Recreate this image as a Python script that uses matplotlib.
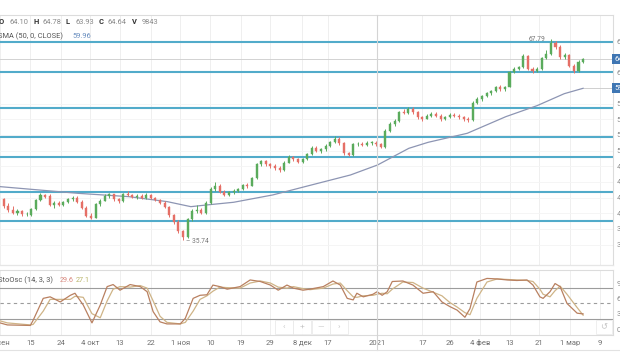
import matplotlib
matplotlib.use("Agg")
import matplotlib.pyplot as plt
from matplotlib.lines import Line2D
from matplotlib.patches import Rectangle
import numpy as np

plt.rcParams['font.family'] = ['Roboto', 'DejaVu Sans']

# ---------------- data ----------------
opens = [42.2, 41.1, 40.5, 40.1, 40.3, 39.8, 39.7, 40.7, 42.1, 42.9,
         42.7, 41.3, 41.6, 41.3, 41.8, 42.2, 42.5, 41.8, 40.9, 39.6,
         39.3, 41.4, 42.0, 42.8, 43.0, 42.2, 41.9, 43.0, 42.9, 42.6,
         42.8, 42.5, 42.9, 42.4, 42.1, 41.7, 41.0, 39.7, 38.6, 37.1,
         36.2, 39.0, 40.3, 40.5, 40.0, 41.6, 43.9, 44.4, 43.4, 42.9,
         43.4, 43.6, 43.9, 44.5, 44.4, 45.6, 47.8, 48.3, 47.8, 47.5,
         47.3, 46.9, 48.1, 49.0, 48.6, 48.2, 48.6, 49.4, 50.5, 50.0,
         50.2, 50.8, 51.4, 51.9, 51.2, 49.6, 49.3, 51.0, 51.1, 50.9,
         51.2, 51.3, 51.0, 50.6, 53.2, 54.3, 54.8, 56.2, 56.0, 56.7,
         56.1, 55.3, 55.1, 55.6, 55.9, 55.5, 55.0, 55.4, 55.7, 55.5,
         55.3, 55.0, 54.9, 57.6, 58.3, 58.7, 59.2, 59.5, 60.1, 59.9,
         60.2, 62.6, 63.1, 63.4, 65.1, 63.1, 62.7, 63.0, 64.8, 65.5,
         67.2, 66.6, 64.9, 65.3, 63.6, 62.8, 64.10]
highs = [42.5, 41.6, 41.2, 40.6, 40.5, 40.2, 40.9, 42.3, 43.2, 43.1,
         43.0, 41.9, 41.9, 42.0, 42.4, 42.7, 42.8, 42.1, 41.2, 40.0,
         41.6, 42.2, 43.1, 43.3, 43.1, 42.5, 43.2, 43.5, 43.1, 43.0,
         43.0, 43.2, 43.0, 42.6, 42.3, 41.9, 41.2, 39.9, 38.9, 37.4,
         39.3, 40.6, 41.3, 40.8, 41.9, 44.2, 45.0, 44.6, 43.7, 43.6,
         43.9, 44.1, 44.7, 44.8, 45.8, 48.0, 48.5, 48.5, 48.1, 47.9,
         47.6, 48.3, 49.3, 49.2, 48.8, 48.8, 49.6, 50.8, 50.7, 50.4,
         51.0, 51.6, 52.3, 52.1, 51.4, 49.8, 51.3, 51.4, 51.4, 51.5,
         51.6, 51.5, 51.2, 53.5, 54.6, 55.1, 56.4, 56.6, 57.0, 56.9,
         56.3, 55.6, 55.8, 56.1, 56.2, 55.8, 55.6, 56.0, 56.0, 55.9,
         55.6, 55.3, 57.9, 58.6, 58.9, 59.4, 59.7, 60.3, 60.5, 60.4,
         62.8, 63.4, 63.6, 65.4, 65.3, 63.4, 63.3, 65.0, 66.0, 67.79,
         67.5, 66.9, 65.6, 65.5, 63.9, 64.5, 64.78]
lows = [40.8, 40.2, 39.8, 39.7, 39.6, 39.5, 39.6, 40.5, 41.9, 42.4,
        41.1, 40.9, 41.1, 41.1, 41.6, 42.0, 41.6, 40.6, 39.4, 39.0,
        39.2, 41.2, 41.9, 42.5, 42.0, 41.7, 41.8, 42.7, 42.4, 42.3,
        42.3, 42.3, 42.2, 41.9, 41.5, 40.8, 39.4, 38.3, 36.8, 35.74,
        36.0, 38.8, 40.0, 39.8, 39.9, 41.4, 43.6, 43.2, 42.7, 42.8,
        43.1, 43.4, 43.7, 44.1, 44.3, 45.5, 47.6, 47.6, 47.2, 46.9,
        46.6, 46.8, 48.0, 48.4, 48.0, 48.0, 48.5, 49.3, 49.8, 49.7,
        50.0, 50.6, 51.2, 50.9, 49.3, 49.1, 49.2, 50.8, 50.7, 50.8,
        50.9, 50.8, 50.4, 50.5, 53.0, 54.0, 54.6, 55.8, 55.8, 55.9,
        55.0, 54.8, 55.0, 55.4, 55.3, 54.8, 54.9, 55.2, 55.3, 55.1,
        54.8, 54.6, 54.8, 57.4, 58.0, 58.5, 58.9, 59.3, 59.6, 59.6,
        60.1, 62.4, 62.9, 63.2, 62.9, 62.4, 62.5, 62.9, 64.6, 65.3,
        66.3, 64.6, 64.7, 63.3, 62.4, 62.5, 63.93]
closes = [41.1, 40.5, 40.1, 40.3, 39.8, 39.9, 40.7, 42.1, 42.9, 42.6,
          41.3, 41.6, 41.3, 41.8, 42.2, 42.5, 41.8, 40.9, 39.6, 39.3,
          41.4, 42.0, 42.8, 43.0, 42.2, 41.9, 43.0, 42.9, 42.6, 42.8,
          42.5, 42.9, 42.4, 42.1, 41.7, 41.0, 39.7, 38.6, 37.1, 36.2,
          39.0, 40.3, 40.5, 40.0, 41.6, 43.9, 44.4, 43.4, 42.9, 43.4,
          43.6, 43.9, 44.5, 44.4, 45.6, 47.8, 48.3, 47.8, 47.5, 47.3,
          46.9, 48.1, 49.0, 48.6, 48.2, 48.6, 49.4, 50.5, 50.0, 50.2,
          50.8, 51.4, 51.9, 51.2, 49.6, 49.3, 51.0, 51.1, 50.9, 51.2,
          51.3, 51.0, 50.6, 53.2, 54.3, 54.8, 56.2, 56.0, 56.7, 56.1,
          55.3, 55.1, 55.6, 55.9, 55.5, 55.0, 55.4, 55.7, 55.5, 55.3,
          55.0, 54.9, 57.6, 58.3, 58.7, 59.2, 59.5, 60.1, 59.9, 60.2,
          62.6, 63.1, 63.4, 65.1, 63.1, 62.7, 63.0, 64.8, 65.5, 67.2,
          66.6, 64.9, 65.3, 63.6, 62.8, 64.1, 64.64]

sma_idx = [-0.8, 16.2, 27.2, 35.6, 40.7, 44.1, 50.0, 58.5, 66.9, 75.4,
           81.3, 88.1, 92.3, 100.8, 109.2, 116.0, 121.9, 126.0]
sma_val = [44.25, 43.18, 42.65, 41.85, 41.05, 41.32, 41.75, 42.92, 44.51, 46.11,
           47.71, 50.37, 51.33, 52.77, 55.43, 57.19, 59.10, 59.96]

level_lines = [67.40, 62.61, 56.76, 52.23, 49.03, 43.35, 38.81]

stoch_idx = [-0.8, 0.8, 5.8, 6.4, 8.6, 10.1, 12.3, 14.5, 15.5, 17.3,
             19.2, 21.0, 22.5, 23.8, 25.3, 27.5, 29.7, 31.2, 32.5, 34.0,
             35.5, 38.4, 39.5, 41.2, 42.7, 44.2, 45.5, 47.0, 48.6, 51.4,
             53.6, 55.8, 58.0, 59.7, 61.6, 63.0, 65.1, 66.6, 69.5, 71.6,
             73.2, 74.7, 76.0, 76.8, 78.2, 80.3, 81.2, 82.3, 83.4, 84.5,
             86.8, 89.0, 91.2, 93.4, 95.3, 97.0, 98.6, 100.3, 101.4, 102.9,
             105.1, 107.3, 109.5, 111.6, 113.8, 115.1, 116.6, 117.3, 118.8, 119.9,
             121.0, 122.5, 124.7, 126.0]
stoch_k = [12, 8, 7, 17, 60, 63, 53, 66, 70, 47,
           12, 47, 83, 87, 76, 87, 83, 73, 34, 14,
           10, 10, 21, 60, 66, 67, 86, 83, 78, 83,
           96, 93, 86, 76, 86, 80, 76, 78, 83, 94,
           86, 60, 57, 70, 63, 68, 73, 66, 73, 93,
           94, 86, 70, 73, 53, 44, 37, 23, 40, 92,
           99, 98, 96, 95, 96, 86, 63, 60, 73, 89,
           83, 50, 31, 29.6]
stoch_d = [16, 12, 8, 9, 35, 58, 58, 58, 64, 62,
           30, 22, 55, 78, 83, 82, 85, 80, 55, 25,
           13, 10, 13, 35, 58, 65, 74, 82, 81, 80,
           90, 94, 90, 82, 80, 83, 79, 77, 80, 88,
           90, 75, 63, 62, 65, 66, 68, 70, 69, 78,
           92, 91, 80, 72, 65, 52, 43, 32, 28, 60,
           92, 98, 97, 96, 95, 93, 78, 68, 63, 75,
           84, 68, 42, 27.1]

tick_pos = [-0.8, 5.8, 12.5, 18.8, 25.3, 32.1, 38.4, 44.9, 51.6, 57.9,
            64.9, 70.5, 81.2, 91.0, 97.1, 103.6, 110.1, 116.4, 123.2, 129.7]
tick_lbl = ["7 сен", "15", "24", "4 окт", "13", "22", "1 ноя", "10", "19", "29",
            "8 дек", "17", "2021", "17", "26", "4 фев", "13", "21", "1 мар", "9"]

price_ticks = [35.0, 37.5, 40.0, 42.5, 45.0, 47.5, 50.0, 52.5, 55.0, 57.5, 62.5, 67.5]
stoch_ticks = [0, 30, 60, 90]

last_price = 64.64
sma_last = 59.96
k_last, d_last = 29.6, 27.1
high_lbl, low_lbl = 67.79, 35.74

# ---------------- figure ----------------
W, H = 620, 364
fig = plt.figure(figsize=(W / 100, H / 100), dpi=100)
fig.patch.set_facecolor('white')

def fx(x):
    return x / W

def fy(y):
    return 1 - y / H

ax = fig.add_axes([0, fy(265), fx(613), (265 - 15) / H])
ax2 = fig.add_axes([0, fy(335), fx(613), (335 - 270) / H], sharex=ax)

XMIN, XMAX = -0.76, 132.5
ax.set_xlim(XMIN, XMAX)
ax.set_ylim(31.73, 71.67)
ax2.set_ylim(-11.7, 115.5)

GREEN = '#5aab5c'
RED = '#e56f66'
BLUE = '#52abca'

# grid
for a in (ax, ax2):
    for p in tick_pos:
        if p != 81.2:
            a.axvline(p, color='#efefef', lw=0.7, zorder=0)
ax.set_yticks(price_ticks)
ax.grid(axis='y', color='#f4f4f4', lw=0.6)
ax.set_axisbelow(True)

# level lines
for lv in level_lines:
    ax.axhline(lv, color=BLUE, lw=1.5, zorder=2)

# current price line and SMA value line
ax.axhline(last_price, color='#d2d2d2', lw=0.7, zorder=1)
ax.hlines(sma_last, len(closes) - 1, XMAX, color='#cfcfcf', lw=0.7, zorder=1)

# SMA
ax.plot(sma_idx, sma_val, color='#8d95b3', lw=0.9, zorder=3)

# candles
idx = np.arange(len(closes))
o = np.array(opens); c = np.array(closes); h = np.array(highs); l = np.array(lows)
cols = [GREEN if cc >= oo else RED for oo, cc in zip(o, c)]
ax.vlines(idx, l, h, colors=cols, lw=0.7, zorder=4)
bottoms = np.minimum(o, c)
heights = np.maximum(np.abs(c - o), 0.12)
ax.bar(idx, heights, bottom=bottoms, width=0.45, color=cols, edgecolor=cols, lw=0.3, zorder=5)

# high / low labels
i_hi = int(np.argmax(h)); i_lo = int(np.argmin(l))
ax.text(i_hi - 1.2, high_lbl - 0.05, f"{high_lbl:.2f}", fontsize=4.8, color='#777777',
        ha='right', va='center', zorder=6)
ax.text(i_lo + 0.6, low_lbl - 0.3, f"– {low_lbl:.2f}", fontsize=4.8, color='#777777',
        ha='left', va='center', zorder=6)

# right axis
for a in (ax, ax2):
    a.yaxis.tick_right()
    a.tick_params(axis='y', length=0, pad=2.5, labelsize=5.5, labelcolor='#8a8a8a')
    a.tick_params(axis='x', length=0)
    a.spines['left'].set_visible(False)
    for s in ('top', 'bottom', 'right'):
        a.spines[s].set_color('#dcdcdc')
        a.spines[s].set_linewidth(0.8)
ax.set_yticklabels([f"{t:.2f}" for t in price_ticks])
plt.setp(ax.get_xticklabels(), visible=False)

# badges
for val in (last_price, sma_last):
    ax.text(1.002, val, f"{val:.2f}", transform=ax.get_yaxis_transform(), fontsize=5.5,
            color='white', ha='left', va='center', clip_on=False, zorder=10,
            bbox=dict(boxstyle='square,pad=0.25', fc='#3f76b3', ec='none'))

# stochastic panel
ax2.axhline(80, color='#9c9c9c', lw=0.8)
ax2.axhline(20, color='#9c9c9c', lw=0.8)
ax2.axhline(50, color='#9c9c9c', lw=0.8, ls=(0, (3, 3)))
ax2.plot(stoch_idx, stoch_d, color='#cfb487', lw=0.9, zorder=3)
ax2.plot(stoch_idx, stoch_k, color='#b98060', lw=0.9, zorder=4)
ax2.set_yticks(stoch_ticks)
ax2.set_yticklabels([str(t) for t in stoch_ticks])
ax2.set_xticks(tick_pos)
ax2.set_xticklabels(tick_lbl)
ax2.tick_params(axis='x', labelsize=5.5, labelcolor='#707070', pad=7.2)
for lab in ax2.get_xticklabels():
    lab.set_verticalalignment('baseline')

# 2021 separator and frame lines
fig.add_artist(Line2D([fx(377), fx(377)], [fy(15), fy(350)], color='#d4d4d4', lw=0.8))
fig.add_artist(Line2D([0, 1], [fy(350), fy(350)], color='#e2e2e2', lw=0.8))
fig.add_artist(Line2D([0, fx(613)], [fy(265), fy(265)], color='#e6e6e6', lw=0.8))

# header texts
hy = fy(22.5)
parts = [(-1, "O", '#333333', 'bold'), (10, "64.10", '#8a8a8a', 'normal'),
         (34, "H", '#333333', 'bold'), (42, "64.78", '#8a8a8a', 'normal'),
         (66, "L", '#333333', 'bold'), (75, "63.93", '#8a8a8a', 'normal'),
         (99, "C", '#333333', 'bold'), (108, "64.64", '#8a8a8a', 'normal'),
         (132, "V", '#333333', 'bold'), (142, "9843", '#8a8a8a', 'normal')]
for x, t, col, wt in parts:
    fig.text(fx(x), hy, t, fontsize=5.4, color=col, fontweight=wt, ha='left', va='center')
fig.text(fx(-2), fy(36), "SMA (50, 0, CLOSE)", fontsize=5.4, color='#555555', ha='left', va='center')
fig.text(fx(72), fy(36), f"{sma_last:.2f}", fontsize=5.4, color='#6a8fc0', ha='left', va='center')

fig.text(fx(-2), fy(280), "StoOsc (14, 3, 3)", fontsize=5.4, color='#555555', ha='left', va='center')
fig.text(fx(60), fy(280), f"{k_last}", fontsize=5.2, color='#d98a80', ha='left', va='center')
fig.text(fx(76), fy(280), f"{d_last}", fontsize=5.2, color='#b9b46a', ha='left', va='center')

# navigation buttons (faint)
for xc, sym in [(284, "‹"), (302, "+"), (321, "—"), (339, "›")]:
    fig.add_artist(Rectangle((fx(xc - 9), fy(334)), 18 / W, 14 / H, fc='white',
                             ec='#e8e8e8', lw=0.6, alpha=0.9))
    fig.text(fx(xc), fy(327), sym, fontsize=6, color='#c8c8c8', ha='center', va='center')
fig.add_artist(Rectangle((fx(596), fy(334)), 16 / W, 14 / H, fc='white', ec='#ececec', lw=0.6))
fig.text(fx(604), fy(327), "↺", fontsize=6, color='#c4c4c4', ha='center', va='center',
         family=['DejaVu Sans'])

fig.savefig("out.png", dpi=100)
